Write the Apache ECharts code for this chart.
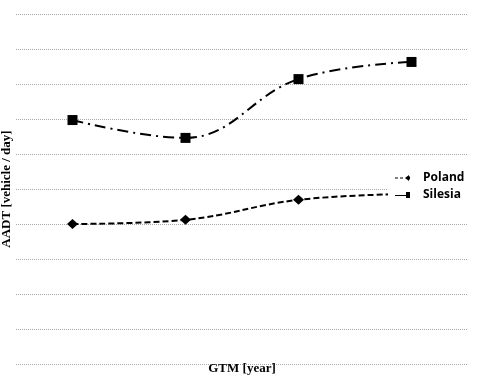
<!DOCTYPE html>
<html><head><meta charset="utf-8">
<script src="https://cdn.jsdelivr.net/npm/echarts@6/dist/echarts.min.js"></script>
<style>html,body{margin:0;padding:0;background:#fff}#c{width:480px;height:379px}</style>
</head><body><div id="c"></div>
<script>
const categories = ['1', '2', '3', '4'];
const polandValues = [4000, 4120, 4690, 4860];
const silesiaValues = [6970, 6460, 8140, 8630];
const seriesNames = ['Poland', 'Silesia'];
const yAxisTitle = 'AADT [vehicle / day]';
const xAxisTitle = 'GTM [year]';

const chart = echarts.init(document.getElementById('c'), null, {renderer: 'canvas'});
chart.setOption({
  animation: false,
  backgroundColor: '#fff',
  grid: {left: 16, right: 12, top: 14, bottom: 15, containLabel: false, outerBoundsMode: 'none'},
  xAxis: {
    type: 'category', data: categories, boundaryGap: true,
    axisLine: {show: false}, axisTick: {show: false}, axisLabel: {show: false},
    name: xAxisTitle, nameLocation: 'middle', nameGap: 0,
    nameTextStyle: {fontFamily: 'Liberation Serif', fontWeight: 'bold', fontSize: 13, color: '#000', verticalAlign: 'top', padding: [-2,0,0,0]}
  },
  yAxis: {
    type: 'value', min: 0, max: 10000, interval: 1000,
    axisLine: {show: false}, axisTick: {show: false}, axisLabel: {show: false},
    splitLine: {lineStyle: {color: '#a8a8a8', type: [1, 1], width: 1}},
    name: yAxisTitle, nameLocation: 'middle', nameGap: 3,
    nameTextStyle: {fontFamily: 'Liberation Serif', fontWeight: 'bold', fontSize: 13, color: '#000'}
  },
  legend: {
    left: 388, top: 168, orient: 'vertical',
    backgroundColor: '#fff', padding: [4, 12, 4, 7], itemGap: 5,
    itemWidth: 15, itemHeight: 7,
    textStyle: {fontFamily: 'Open Sans', fontWeight: 'bold', fontSize: 12, color: '#000', padding: [0,0,0,8]},
    data: [
      {name: seriesNames[0], icon: 'path://M0,3 L3,3 L3,4 L0,4 Z M5,3 L8,3 L8,4 L5,4 Z M10,3.5 L14,0.5 L14,6.5 Z M13,2 L15,2 L15,5 L13,5 Z', itemStyle: {color: '#000'}},
      {name: seriesNames[1], icon: 'path://M0,4 L11,4 L11,5 L0,5 Z M11,1 L15,1 L15,7 L11,7 Z', itemStyle: {color: '#000'}}
    ]
  },
  series: [
    {
      name: seriesNames[0], type: 'line', data: polandValues, smooth: 0.4,
      symbol: 'diamond', symbolSize: [11, 10],
      itemStyle: {color: '#000'},
      lineStyle: {color: '#000', width: 2, type: [6, 3]}
    },
    {
      name: seriesNames[1], type: 'line', data: silesiaValues, smooth: 0.4,
      symbol: 'rect', symbolSize: 10,
      itemStyle: {color: '#000'},
      lineStyle: {color: '#000', width: 2, type: [11, 5, 2, 5]}
    }
  ]
});
</script></body></html>
